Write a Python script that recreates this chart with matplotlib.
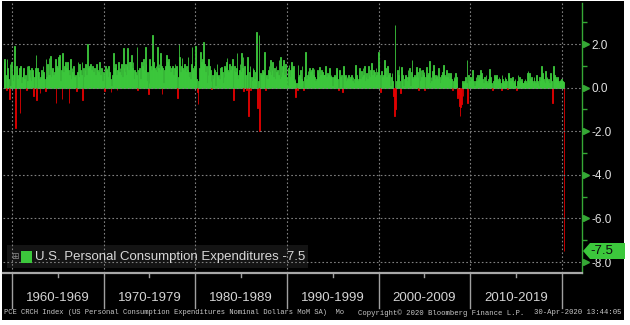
import numpy as np
import pandas as pd
import matplotlib
matplotlib.use("Agg")
import matplotlib.pyplot as plt
import matplotlib.transforms as mtransforms
from matplotlib.patches import Rectangle, Polygon

# ---------------- data (monthly % change) ----------------
start_month = "1959-02"
pce_1959 = [1.2, 1.3, 0.6, -0.1, 1.3, 0.9, 0.4, -0.5, 1.1, 0.1, 1.2]
pce_1960s = [
    0.6, 0.3, 1.0, 1.9, -1.85, 1.0, 0.8, 0.4, 0.6, 0.9, -1.15, 1.0,
    0.2, 0.5, 0.7, 0.9, 0.4, 0.6, -0.1, 1.0, 0.3, 1.0, 0.8, 0.5,
    0.3, 0.9, 0.8, 0.6, -0.4, 0.5, 0.9, 1.5, -0.55, 0.9, 0.7, 0.4,
    -0.25, 0.5, 0.8, 0.6, 1.0, 0.7, 0.4, -0.15, 1.3, 0.5, 1.1, 0.6,
    1.35, 0.6, 1.45, 0.5, 0.8, 0.9, 0.6, 0.7, 1.3, -0.7, 1.0, 0.9,
    1.4, 0.6, 1.5, 0.3, 0.8, -0.5, 1.6, 0.7, 1.0, 0.6, 1.2, 0.9,
    1.2, 0.8, -0.72, 0.6, 1.3, 0.4, 0.9, 0.7, 1.0, 0.5, 0.3, 0.6,
    -0.15, 0.7, 1.2, 0.5, 1.1, 0.8, 0.6, 1.2, -0.55, 0.9, 0.5, 0.8,
    1.1, 0.6, 2.0, 0.3, 0.9, 1.0, 1.1, 0.6, 0.8, 1.0, 0.7, 0.5,
    0.9, 0.6, 1.1, 0.8, 0.5, 0.7, 1.2, 0.6, 0.4, 0.9, 0.3, 0.7,
]
pce_1970s = [
    0.6, -0.17, 1.0, 0.8, 0.9, 0.5, 1.0, 0.7, 0.4, -0.2, 0.1, 0.6,
    1.6, 0.5, 0.9, 1.1, 0.6, -0.1, 0.8, 1.2, 0.7, 0.9, 0.6, 1.1,
    0.5, 1.8, 0.9, 0.7, 1.1, 0.6, 1.0, 1.8, 0.8, 1.2, 0.7, 1.2,
    1.5, 0.9, 1.2, 0.4, 0.8, 0.7, 0.6, 1.88, -0.1, 0.8, 0.9, 0.3,
    0.4, 1.2, 1.0, 0.9, 1.3, 0.8, 1.85, 1.1, 0.3, 0.7, -0.3, 0.2,
    1.3, 1.0, 0.8, 2.4, 1.1, 1.2, 0.9, 0.8, 1.0, 0.7, 1.88, 0.9,
    1.1, 0.8, 1.6, 1.0, -0.3, 0.9, 0.2, 0.8, 1.0, 0.7, 1.5, 1.2,
    1.3, 0.8, 1.0, 0.7, 0.9, 0.2, 1.0, 0.6, 0.9, 1.1, 0.8, 1.0,
    -0.45, 0.5, 2.0, 1.4, 0.7, 1.0, 1.35, 0.9, 0.8, 1.1, 0.9, 0.7,
    1.0, 0.8, 1.4, 0.5, 0.7, 0.4, 1.1, 1.88, 0.9, 0.8, 1.0, 1.2,
]
pce_1980s = [
    1.9, 0.4, -0.2, -0.75, 0.3, 0.9, 1.65, 1.0, 1.2, 1.3, 2.1, 0.9,
    1.1, 0.7, 1.0, 0.2, 0.6, 1.3, 1.0, 0.8, 0.3, -0.05, 0.6, 0.4,
    0.9, 0.8, 0.1, 0.7, 1.1, 0.5, 0.6, 0.4, 0.9, 0.6, 0.95, 0.7,
    0.2, 0.5, 1.0, 0.9, 1.2, 1.35, 0.8, 0.7, 1.1, 0.6, 0.8, 1.0,
    1.3, -0.58, 0.8, 1.0, 0.7, 0.9, 1.6, 0.4, 0.6, 0.8, 1.1, 0.7,
    1.6, 0.9, 1.4, -0.17, 1.0, 0.6, -0.1, 1.0, 1.4, -1.3, 0.7, 1.0,
    -0.12, 0.5, 0.3, 0.9, 0.8, 0.4, 0.7, 0.8, 2.56, -0.92, 0.3, 2.4,
    -1.98, 0.67, 0.6, 0.8, 0.3, 0.7, 1.65, -0.1, 0.5, 0.6, 0.4, 0.8,
    1.0, 0.7, 1.25, 0.6, 0.8, 1.2, 0.5, 0.9, 0.4, 1.0, 0.7, 0.8,
    0.6, 1.27, 0.4, 1.4, 0.5, 0.7, 1.0, 1.27, 0.6, 0.3, 1.1, 0.5,
]
pce_1990s = [
    0.1, 0.9, 1.05, 0.5, 0.8, 1.2, 0.6, 0.9, 1.0, 0.3, 0.4, -0.43,
    0.2, -0.1, 1.05, 0.5, 0.6, 0.8, 0.4, 1.0, 0.3, -0.12, 0.5, 0.7,
    1.65, 0.4, 0.6, 0.75, 0.5, 0.9, 0.7, 0.5, 0.8, 0.9, 0.6, 0.85,
    0.5, 0.3, 0.4, 0.8, 0.7, 0.5, 0.95, 0.6, 0.6, 0.8, 0.7, 0.6,
    0.2, 0.6, 1.0, 0.5, 0.4, 0.67, 0.6, 0.9, 0.5, 0.6, 0.5, 0.1,
    0.5, 0.2, 0.6, 0.5, 0.9, 0.8, 0.4, -0.12, 0.8, 0.3, 0.5, 0.6,
    -0.2, 1.0, 0.8, 0.5, 0.6, 0.3, 0.5, 0.4, 0.6, 0.4, 0.3, 0.5,
    0.6, 0.3, 0.5, 0.2, 0.4, 1.05, 0.6, 0.5, 0.3, 0.4, 0.9, 0.4,
    0.4, 0.75, 0.5, 0.9, 0.6, 1.0, 0.3, 0.5, 0.67, 0.4, 1.0, 0.6,
    0.5, 0.8, 1.12, 0.6, 0.4, 0.8, 0.7, 0.5, 0.9, 0.6, 0.7, 1.65,
]
pce_2000s = [
    1.1, 0.6, -0.2, 0.75, 0.4, 0.5, 0.6, 1.27, 0.9, 0.3, 0.5, 1.0,
    0.6, 0.4, 0.67, 0.1, 0.5, 0.67, 0.3, -0.4, -1.3, 2.86, -1.0, 0.3,
    0.8, 0.6, 1.0, 0.3, -0.25, 0.95, 0.8, 0.6, 0.1, 0.4, 0.5, 0.6,
    0.5, 0.3, 0.8, 0.5, 0.9, 0.1, 0.7, 1.27, 0.4, 0.5, 0.6, 0.4,
    0.5, 0.97, 0.7, 0.5, -0.1, 0.9, 0.3, 0.8, 0.5, 0.8, 0.6, 0.7,
    -0.1, 0.5, 0.97, 0.6, 0.4, 0.67, 1.24, 0.2, 0.5, 0.3, 0.75, 1.05,
    0.8, 0.4, 0.6, 0.5, 0.6, 0.4, 0.9, 0.5, 0.2, 0.4, 0.6, 0.7,
    1.05, 0.4, 0.6, 0.5, 0.8, 0.3, 0.5, 0.67, 0.4, 0.5, 0.67, 0.4,
    -0.1, 0.3, 0.5, 0.4, 0.67, 0.5, 0.2, -0.45, -0.3, -0.85, -1.3, -0.9,
    -0.77, 0.3, -0.4, 0.2, 0.3, 0.5, 0.2, 1.27, -0.7, 0.6, 0.3, 0.2,
]
pce_2010s = [
    0.5, 0.4, 0.8, 0.2, 0.3, 0.1, 0.3, 0.5, 0.3, 0.6, 0.4, 0.5,
    0.6, 0.8, 0.67, 0.4, 0.1, 0.2, 0.5, 0.3, 0.6, 0.3, 0.2, 0.4,
    0.5, 0.85, 0.5, 0.2, 0.1, -0.12, 0.3, 0.6, 0.5, 0.2, 0.6, 0.4,
    0.3, 0.5, 0.4, 0.2, -0.12, 0.6, 0.4, 0.3, 0.2, 0.5, 0.4, 0.3,
    -0.05, 0.67, 0.6, 0.3, 0.45, 0.3, 0.4, 0.5, 0.2, 0.3, 0.4, 0.1,
    -0.12, 0.3, 0.6, 0.2, 0.5, 0.3, 0.4, 0.3, 0.2, 0.2, 0.3, 0.4,
    0.3, 0.2, 0.67, 0.75, 0.3, 0.67, 0.4, 0.2, 0.5, 0.3, 0.2, 0.5,
    0.3, 0.2, 0.6, 0.3, 0.2, 0.1, 0.5, 0.3, 0.5, 1.0, 0.67, 0.4,
    0.3, 0.2, 0.75, 0.4, 0.5, 0.3, 0.4, 0.2, 0.67, 0.5, 0.3, -0.72,
    1.0, 0.2, 0.6, 0.5, 0.4, 0.3, 0.5, 0.3, 0.2, 0.35, 0.3, 0.4,
]
pce_2020 = [0.3, 0.25, -7.5]

decade_labels = ["1960-1969", "1970-1979", "1980-1989", "1990-1999",
                 "2000-2009", "2010-2019"]
y_ticks = [2, 0, -2, -4, -6, -8]
y_tick_labels = ["2.0", "0.0", "-2.0", "-4.0", "-6.0", "-8.0"]
y_minor_ticks = [3, 1, -1, -3, -5, -7]
series_name = "U.S. Personal Consumption Expenditures"
last_label = "-7.5"
footer_left = "PCE CRCH Index (US Personal Consumption Expenditures Nominal Dollars MoM SA)  Mo"
footer_mid = "Copyright\u00a9 2020 Bloomberg Finance L.P."
footer_right = "30-Apr-2020 13:44:05"

values = np.array(pce_1959 + pce_1960s + pce_1970s + pce_1980s + pce_1990s
                  + pce_2000s + pce_2010s + pce_2020)
months = pd.period_range(start_month, periods=len(values), freq="M")
x = np.arange(len(values))

# ---------------- styling ----------------
W, H = 630, 325
GREEN = "#3cc83c"
RED = "#e40000"
AXGREEN = "#35a835"
GRID = "#808080"
TXT = "#e2e2e2"
plt.rcParams["font.family"] = ["Liberation Sans", "DejaVu Sans"]

fig = plt.figure(figsize=(W / 100, H / 100), dpi=100, facecolor="white")


def fx(px):
    return px / W


def fy(py):
    return 1 - py / H


fig.add_artist(Rectangle((fx(2), fy(320)), fx(624) - fx(2), fy(1) - fy(320),
                         transform=fig.transFigure, facecolor="black",
                         edgecolor="none", zorder=-5))

ax = fig.add_axes([fx(3), fy(273), fx(582) - fx(3), fy(3) - fy(273)])
ax.set_facecolor("black")
ax.set_xlim(-0.785, 757.2)
ax.set_ylim(-8.5, 3.885)

colors = [GREEN if v >= 0 else RED for v in values]
ax.bar(x, values, width=1.0, align="edge", color=colors, edgecolor=colors,
       linewidth=0.6, zorder=2)

decade_idx = [i for i, m in enumerate(months) if m.month == 1 and m.year % 10 == 0]
mid_idx = [i for i, m in enumerate(months) if m.month == 1 and m.year % 10 == 5]

for yv in y_ticks:
    ax.axhline(yv, color=GRID, lw=0.8, ls=(0, (1.5, 2.0)), zorder=3)
for d in decade_idx:
    ax.axvline(d, color=GRID, lw=0.8, ls=(0, (1.5, 2.0)), zorder=1)

# legend box (below grid)
ax.add_patch(Rectangle((fx(7), fy(268)), fx(308) - fx(7), fy(245) - fy(268),
                       transform=fig.transFigure, facecolor="#141414",
                       edgecolor="none", zorder=0.5))

for s in ["top", "left"]:
    ax.spines[s].set_visible(False)
ax.spines["bottom"].set_color("#a8a8a8")
ax.spines["bottom"].set_linewidth(1.6)
ax.spines["right"].set_color(AXGREEN)
ax.spines["right"].set_linewidth(1.0)

ax.set_xticks([])
ax.yaxis.tick_right()
ax.set_yticks(y_ticks)
ax.set_yticklabels(y_tick_labels)
ax.set_yticks(y_minor_ticks, minor=True)
ax.tick_params(axis="y", which="major", length=0, pad=7, labelsize=8.5,
               labelcolor=TXT)
ax.tick_params(axis="y", which="minor", length=3.5, width=1.0, color=AXGREEN,
               direction="out")
tri_t = mtransforms.blended_transform_factory(ax.transAxes, ax.transData) + \
    mtransforms.ScaledTranslation(3.5 / 100, 0, fig.dpi_scale_trans)
ax.plot([1] * len(y_ticks), y_ticks, linestyle="none", marker=">",
        markersize=4.5, color=AXGREEN, transform=tri_t, clip_on=False, zorder=5)

# bottom decade band
tb = mtransforms.blended_transform_factory(ax.transData, ax.transAxes)
band_h = ax.get_position().height * H
for d in decade_idx:
    ax.plot([d, d], [0, -35 / band_h], color="#a0a0a0", lw=1.0, transform=tb,
            clip_on=False)
for m in mid_idx:
    ax.plot([m, m], [0, -4 / band_h], color="#a0a0a0", lw=1.0, transform=tb,
            clip_on=False)
for k, lab in enumerate(decade_labels):
    xc = (decade_idx[k] + decade_idx[k + 1]) / 2
    ax.text(xc, -25 / band_h, lab, transform=tb, ha="center", va="center",
            fontsize=9.5, color="#d4d4d4")

# legend contents
fig.text(fx(15), fy(256.5), "\u229e", ha="center", va="center", fontsize=6.5,
         color="#8a8a8a", family=["DejaVu Sans"], zorder=6)
fig.add_artist(Rectangle((fx(21), fy(263)), fx(11), fy(251) - fy(263),
                         transform=fig.transFigure, facecolor=GREEN,
                         edgecolor="none", zorder=6))
fig.text(fx(35), fy(257), f"{series_name} {last_label}", ha="left",
         va="center", fontsize=9.5, color="#d8d8d8", zorder=6)

# last value tag on right axis
tag = [(583, 251), (590, 243), (625, 243), (625, 259), (590, 259)]
fig.add_artist(Polygon([(fx(a), fy(b)) for a, b in tag], closed=True,
                       transform=fig.transFigure, facecolor=GREEN,
                       edgecolor="none", zorder=7))
fig.text(fx(602), fy(250.5), last_label, ha="center", va="center",
         fontsize=9.5, color="#0c0c0c", zorder=8)

# footer (fixed-width terminal font)
mono = ["Liberation Mono", "DejaVu Sans Mono"]
fig.text(fx(4), fy(313), footer_left, ha="left", va="center", fontsize=5.1,
         color="#c8c8c8", family=mono)
fig.text(fx(358), fy(313), footer_mid, ha="left", va="center", fontsize=5.2,
         color="#c8c8c8", family=mono)
fig.text(fx(622), fy(313), footer_right, ha="right", va="center",
         fontsize=5.2, color="#c8c8c8", family=mono)

fig.savefig("out.png", dpi=100, facecolor=fig.get_facecolor())
